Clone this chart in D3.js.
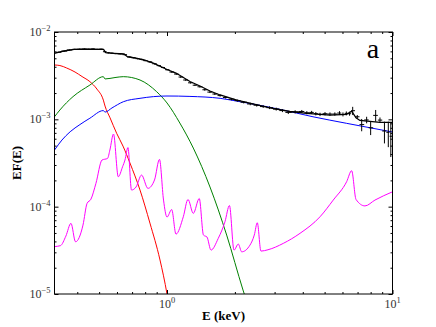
<!DOCTYPE html>
<html>
<head>
<meta charset="utf-8">
<script src="https://cdn.jsdelivr.net/npm/d3@7"></script>
<style>
  body { margin: 0; background: #fff; }
  svg { display: block; }
</style>
</head>
<body>
<script>
// data
// red component
var redE = [0.317, 0.335, 0.359, 0.391, 0.420, 0.455, 0.489, 0.522, 0.531, 0.559, 0.598, 0.638, 0.685, 0.759, 0.840, 0.931, 1.0, 1.031];
var redF = [4.19e-3, 4.13e-3, 3.87e-3, 3.48e-3, 3.09e-3, 2.70e-3, 2.22e-3, 1.66e-3, 1.42e-3, 1.04e-3, 6.92e-4, 4.94e-4, 3.16e-4, 1.55e-4, 6.49e-5, 2.45e-5, 1.0e-5, 6.2e-6];

// green component
var greenE = [0.317, 0.335, 0.383, 0.455, 0.522, 0.531, 0.588, 0.640, 0.759, 0.900, 1.0, 1.14, 1.308, 1.551, 1.839, 2.173, 2.26];
var greenF = [1.07e-3, 1.28e-3, 1.82e-3, 2.47e-3, 3.08e-3, 2.90e-3, 3.01e-3, 3.08e-3, 2.82e-3, 2.07e-3, 1.54e-3, 9.07e-4, 4.69e-4, 1.68e-4, 4.73e-5, 1.11e-5, 8.1e-6];

// blue component
var blueE = [0.317, 0.342, 0.372, 0.411, 0.455, 0.522, 0.531, 0.570, 0.640, 0.759, 1.0, 1.264, 1.72, 2.11, 2.33, 3.17, 4.44, 6.26, 10];
var blueF = [4.45e-4, 5.79e-4, 7.21e-4, 8.71e-4, 1.03e-3, 1.26e-3, 1.21e-3, 1.35e-3, 1.59e-3, 1.74e-3, 1.85e-3, 1.83e-3, 1.74e-3, 1.59e-3, 1.52e-3, 1.30e-3, 1.07e-3, 9.0e-4, 7.16e-4];

// magenta component (lines)
var lineE = [0.317, 0.337, 0.356, 0.375, 0.393, 0.424, 0.442, 0.460, 0.484, 0.515, 0.545, 0.558, 0.579, 0.608, 0.635, 0.651, 0.671, 0.696, 0.729, 0.771, 0.823, 0.880, 0.926, 0.965, 1.0, 1.049, 1.096, 1.181, 1.239, 1.308, 1.390, 1.451, 1.504, 1.567, 1.688, 1.807, 1.892, 1.982, 2.071, 2.144, 2.333, 2.438, 2.514, 2.610, 2.804, 3.279, 3.889, 4.77, 5.46, 6.26, 6.59, 6.89, 7.55, 8.36, 10];
var lineF = [3.49e-5, 3.58e-5, 4.60e-5, 6.44e-5, 3.96e-5, 6.15e-5, 1.09e-4, 1.22e-4, 1.85e-4, 3.42e-4, 3.57e-4, 4.45e-4, 6.79e-4, 2.20e-4, 2.86e-4, 3.42e-4, 4.75e-4, 1.55e-4, 1.68e-4, 2.30e-4, 1.62e-4, 2.02e-4, 3.48e-4, 1.19e-4, 7.60e-5, 9.27e-5, 4.85e-5, 7.66e-5, 1.21e-4, 8.38e-5, 1.24e-4, 4.73e-5, 4.49e-5, 3.18e-5, 4.34e-5, 6.71e-5, 1.03e-4, 3.18e-5, 3.73e-5, 3.04e-5, 3.63e-5, 4.73e-5, 6.54e-5, 3.10e-5, 3.21e-5, 3.80e-5, 4.95e-5, 7.66e-5, 1.19e-4, 1.93e-4, 2.58e-4, 1.21e-4, 1.02e-4, 1.19e-4, 1.48e-4];

// total model (black)
var totalE = [0.317, 0.335, 0.360, 0.387, 0.443, 0.523, 0.535, 0.582, 0.645, 0.667, 0.721, 0.791, 0.875, 1.0, 1.096, 1.264, 1.40, 1.551, 1.72, 2.04, 2.86, 3.51, 4.16, 5.28, 6.26, 6.59, 6.89, 7.17, 8.80, 10];
var totalF = [5.70e-3, 5.93e-3, 6.14e-3, 6.34e-3, 6.38e-3, 6.34e-3, 5.79e-3, 5.70e-3, 5.60e-3, 5.21e-3, 5.04e-3, 4.78e-3, 4.38e-3, 3.72e-3, 3.39e-3, 2.71e-3, 2.41e-3, 2.11e-3, 1.90e-3, 1.66e-3, 1.35e-3, 1.23e-3, 1.17e-3, 1.12e-3, 1.14e-3, 1.24e-3, 1.04e-3, 9.7e-4, 9.25e-4, 9.25e-4];

// observed data points
var dataE = [0.33, 0.35, 0.37, 0.39, 0.41, 0.43, 0.45, 0.47, 0.49, 0.51, 0.53, 0.55, 0.57, 0.59, 0.62, 0.65, 0.68, 0.71, 0.74, 0.77, 0.80, 0.84, 0.88, 0.92, 0.96, 1.00, 1.05, 1.10, 1.15, 1.21, 1.27, 1.33, 1.40, 1.47, 1.55, 1.63, 1.72, 1.82, 1.93, 2.05, 2.19, 2.34, 2.50, 2.67, 2.85, 3.05, 3.25, 3.45, 3.70, 3.96, 4.17, 4.38, 4.57, 4.77, 5.02, 5.28, 5.55, 5.82, 6.03, 6.24, 6.45, 6.66, 6.98, 7.30, 7.68, 8.00, 8.42, 8.80, 9.21, 9.58, 9.83];
var dataF = [5.85e-3, 6.05e-3, 6.22e-3, 6.33e-3, 6.36e-3, 6.40e-3, 6.35e-3, 6.40e-3, 6.32e-3, 6.36e-3, 5.95e-3, 5.78e-3, 5.72e-3, 5.66e-3, 5.62e-3, 5.50e-3, 5.18e-3, 5.08e-3, 4.95e-3, 4.85e-3, 4.70e-3, 4.55e-3, 4.33e-3, 4.12e-3, 3.92e-3, 3.70e-3, 3.48e-3, 3.30e-3, 3.05e-3, 2.82e-3, 2.62e-3, 2.46e-3, 2.36e-3, 2.18e-3, 2.05e-3, 1.95e-3, 1.87e-3, 1.78e-3, 1.70e-3, 1.64e-3, 1.57e-3, 1.50e-3, 1.45e-3, 1.40e-3, 1.36e-3, 1.31e-3, 1.26e-3, 1.20e-3, 1.22e-3, 1.23e-3, 1.19e-3, 1.20e-3, 1.16e-3, 1.14e-3, 1.16e-3, 1.15e-3, 1.15e-3, 1.18e-3, 1.14e-3, 1.17e-3, 1.16e-3, 1.255e-3, 1.07e-3, 8.7e-4, 9.85e-4, 8.0e-4, 1.11e-3, 9.8e-4, 7.35e-4, 7.1e-4, 6.4e-4];
var dataErr = [9e-5, 9e-5, 9e-5, 9e-5, 9e-5, 9e-5, 9e-5, 9e-5, 9e-5, 9e-5, 9e-5, 9e-5, 8e-5, 8e-5, 8e-5, 8e-5, 8e-5, 8e-5, 8e-5, 8e-5, 8e-5, 8e-5, 8e-5, 7e-5, 7e-5, 7e-5, 7e-5, 6e-5, 6e-5, 6e-5, 5e-5, 5e-5, 5e-5, 5e-5, 5e-5, 5e-5, 5e-5, 5e-5, 5e-5, 5e-5, 5e-5, 5e-5, 5e-5, 5e-5, 5e-5, 5e-5, 5e-5, 5e-5, 5e-5, 5e-5, 5e-5, 5e-5, 5e-5, 5e-5, 5e-5, 5e-5, 5e-5, 6e-5, 6e-5, 6e-5, 6e-5, 1.35e-4, 5e-5, 1.4e-4, 8.5e-5, 1.4e-4, 1.7e-4, 7e-5, 2.05e-4, 2.3e-4, 2.7e-4];

// tick values
var xMajor = [1, 10];
var xMinor = [0.4, 0.5, 0.6, 0.7, 0.8, 0.9, 2, 3, 4, 5, 6, 7, 8, 9];
var yMajor = [1e-5, 1e-4, 1e-3, 1e-2];
var xLabels = ["0", "1"];
var yLabels = ["\u22125", "\u22124", "\u22123", "\u22122"];

var svgWidth = 436, svgHeight = 327;
var margin = { top: 32, right: 43.5, bottom: 33, left: 54.5 };
var chartWidth = svgWidth - margin.left - margin.right;
var chartHeight = svgHeight - margin.top - margin.bottom;

var svg = d3.select("body").append("svg")
  .attr("width", svgWidth)
  .attr("height", svgHeight);

var chartGroup = svg.append("g")
  .attr("transform", `translate(${margin.left}, ${margin.top})`);

var xScale = d3.scaleLog().domain([0.317, 10]).range([0, chartWidth]);
var yScale = d3.scaleLog().domain([1e-5, 1e-2]).range([chartHeight, 0]);

// minor y ticks: 2..9 in each decade
var yMinor = [];
yMajor.slice(0, 3).forEach(function(d) {
  for (var k = 2; k <= 9; k++) yMinor.push(d * k);
});

svg.append("defs").append("clipPath").attr("id", "clip")
  .append("rect").attr("width", chartWidth).attr("height", chartHeight);

var plot = chartGroup.append("g").attr("clip-path", "url(#clip)");

var line = d3.line()
  .x(function(d) { return xScale(d[0]); })
  .y(function(d) { return yScale(d[1]); });

function series(es, fs) {
  return es.map(function(e, i) { return [e, fs[i]]; });
}

plot.append("path").datum(series(redE, redF))
  .attr("d", line.curve(d3.curveMonotoneX)).attr("fill", "none").attr("stroke", "#ff0000").attr("stroke-width", 1);
plot.append("path").datum(series(greenE, greenF))
  .attr("d", line.curve(d3.curveMonotoneX)).attr("fill", "none").attr("stroke", "#008000").attr("stroke-width", 1);
plot.append("path").datum(series(blueE, blueF))
  .attr("d", line.curve(d3.curveMonotoneX)).attr("fill", "none").attr("stroke", "#0000ff").attr("stroke-width", 1);
plot.append("path").datum(series(lineE, lineF))
  .attr("d", line.curve(d3.curveMonotoneX)).attr("fill", "none").attr("stroke", "#ff00ff").attr("stroke-width", 1);
plot.append("path").datum(series(totalE, totalF))
  .attr("d", line.curve(d3.curveLinear)).attr("fill", "none").attr("stroke", "#000").attr("stroke-width", 1.3);

// data crosses: bin edges at midpoints between neighbouring energies
var edges = dataE.map(function(e, i) {
  var prev = i > 0 ? dataE[i - 1] : e - (dataE[1] - dataE[0]);
  var next = i < dataE.length - 1 ? dataE[i + 1] : e + (e - dataE[i - 1]);
  return [(prev + e) / 2, (e + next) / 2];
});

var pts = plot.append("g").attr("stroke", "#000").attr("stroke-width", 1);
dataE.forEach(function(e, i) {
  pts.append("line")
    .attr("x1", xScale(edges[i][0])).attr("x2", xScale(edges[i][1]))
    .attr("y1", yScale(dataF[i])).attr("y2", yScale(dataF[i]));
  pts.append("line")
    .attr("x1", xScale(e)).attr("x2", xScale(e))
    .attr("y1", yScale(dataF[i] - dataErr[i])).attr("y2", yScale(dataF[i] + dataErr[i]));
});

// axes with inward ticks on all sides
function tickAxis(axis, scale, values, size, transform) {
  chartGroup.append("g")
    .attr("transform", transform)
    .call(axis(scale).tickValues(values).tickSizeInner(-size).tickSizeOuter(0).tickFormat(""))
    .call(function(g) { g.select(".domain").remove(); g.selectAll("line").attr("stroke", "#000"); });
}
tickAxis(d3.axisBottom, xScale, xMajor, 4, `translate(0, ${chartHeight})`);
tickAxis(d3.axisBottom, xScale, xMinor, 2, `translate(0, ${chartHeight})`);
tickAxis(d3.axisTop, xScale, xMajor, 4, "translate(0, 0)");
tickAxis(d3.axisTop, xScale, xMinor, 2, "translate(0, 0)");
tickAxis(d3.axisLeft, yScale, yMajor, 4, "translate(0, 0)");
tickAxis(d3.axisLeft, yScale, yMinor, 2, "translate(0, 0)");
tickAxis(d3.axisRight, yScale, yMajor, 4, `translate(${chartWidth}, 0)`);
tickAxis(d3.axisRight, yScale, yMinor, 2, `translate(${chartWidth}, 0)`);

chartGroup.append("rect")
  .attr("width", chartWidth).attr("height", chartHeight)
  .attr("fill", "none").attr("stroke", "#000").attr("stroke-width", 1);

var font = "'Liberation Serif', 'DejaVu Serif', serif";

// tick labels 10^n
yMajor.forEach(function(d, i) {
  var t = chartGroup.append("text")
    .attr("x", -4).attr("y", yScale(d) + 4)
    .attr("text-anchor", "end")
    .attr("font-family", font).attr("font-size", 12).attr("fill", "#333");
  t.append("tspan").text("10");
  t.append("tspan").attr("dy", -5).attr("font-size", 8.5).text(yLabels[i]);
});
xMajor.forEach(function(d, i) {
  var t = chartGroup.append("text")
    .attr("x", xScale(d)).attr("y", chartHeight + 14)
    .attr("text-anchor", "middle")
    .attr("font-family", font).attr("font-size", 12).attr("fill", "#333");
  t.append("tspan").text("10");
  t.append("tspan").attr("dy", -5).attr("font-size", 8.5).text(xLabels[i]);
});

// axis titles
svg.append("text")
  .attr("x", margin.left + chartWidth / 2).attr("y", 320)
  .attr("text-anchor", "middle")
  .attr("font-family", font).attr("font-size", 13).attr("font-weight", "bold")
  .text("E (keV)");
svg.append("text")
  .attr("transform", `translate(21, ${margin.top + chartHeight / 2}) rotate(-90)`)
  .attr("text-anchor", "middle")
  .attr("font-family", font).attr("font-size", 13).attr("font-weight", "bold")
  .text("EF(E)");

// panel letter
svg.append("text")
  .attr("x", 373).attr("y", 58)
  .attr("text-anchor", "middle")
  .attr("font-family", font).attr("font-size", 28)
  .text("a");
</script>
</body>
</html>
